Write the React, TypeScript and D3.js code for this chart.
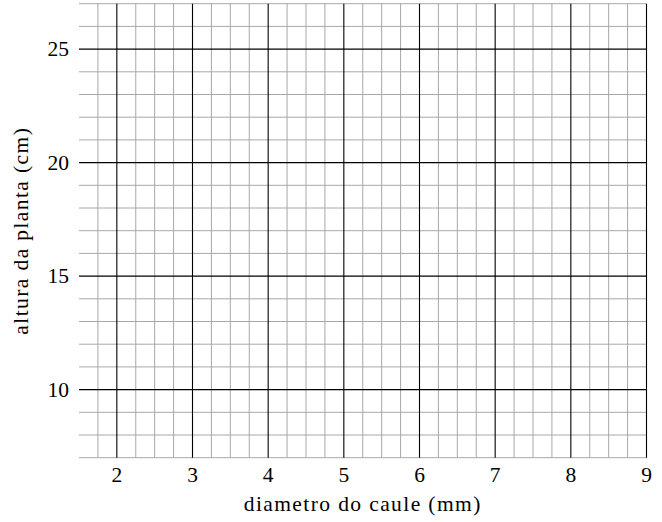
import { useRef, useEffect } from 'react'
import * as d3 from 'd3';

// axis ranges and ticks
const xDomain = [1.5, 9];
const yDomain = [7, 27];
const xMajorTicks = [2, 3, 4, 5, 6, 7, 8, 9];
const yMajorTicks = [10, 15, 20, 25];
const xMinorTicks = [1.75, 2, 2.25, 2.5, 2.75, 3, 3.25, 3.5, 3.75, 4, 4.25, 4.5, 4.75, 5, 5.25, 5.5, 5.75, 6, 6.25, 6.5, 6.75, 7, 7.25, 7.5, 7.75, 8, 8.25, 8.5, 8.75, 9];
const yMinorTicks = [7, 8, 9, 10, 11, 12, 13, 14, 15, 16, 17, 18, 19, 20, 21, 22, 23, 24, 25, 26, 27];
const xLabel = "diametro do caule (mm)";
const yLabel = "altura da planta (cm)";

function App() {
    const ref = useRef(null);

    const width = 662;
    const height = 522;

    useEffect(() => {
        const marginLeft = 79;
        const marginRight = 15.5;
        const marginTop = 3.7;
        const marginBottom = 64.3;
        const font = '"Liberation Serif", serif';
        const fontSize = 21.5;

        const svg = d3.select(ref.current);
        svg.selectAll("*").remove();

        const x = d3.scaleLinear()
                    .domain(xDomain)
                    .range([marginLeft, width - marginRight]);

        const y = d3.scaleLinear()
                    .domain(yDomain)
                    .range([height - marginBottom, marginTop]);

        // minor grid
        const minor = svg.append("g")
                         .attr("stroke", "#a8a8a8")
                         .attr("stroke-width", 1);
        minor.selectAll()
             .data(xMinorTicks.filter(d => !xMajorTicks.includes(d)))
             .join("line")
             .attr("x1", d => x(d)).attr("x2", d => x(d))
             .attr("y1", y(yDomain[0])).attr("y2", y(yDomain[1]));
        minor.selectAll()
             .data(yMinorTicks.filter(d => !yMajorTicks.includes(d)))
             .join("line")
             .attr("x1", x(xDomain[0])).attr("x2", x(xDomain[1]))
             .attr("y1", d => y(d)).attr("y2", d => y(d));

        // major grid
        const major = svg.append("g")
                         .attr("stroke", "#000")
                         .attr("stroke-width", 1.1);
        major.selectAll()
             .data(xMajorTicks)
             .join("line")
             .attr("x1", d => x(d)).attr("x2", d => x(d))
             .attr("y1", y(yDomain[0])).attr("y2", y(yDomain[1]));
        major.selectAll()
             .data(yMajorTicks)
             .join("line")
             .attr("x1", x(xDomain[0])).attr("x2", x(xDomain[1]))
             .attr("y1", d => y(d)).attr("y2", d => y(d));

        // tick labels
        svg.append("g")
           .style("font-family", font)
           .attr("font-size", fontSize)
           .attr("text-anchor", "middle")
           .selectAll()
           .data(xMajorTicks)
           .join("text")
           .attr("x", d => x(d))
           .attr("y", height - marginBottom + 24.5)
           .text(d => d);

        svg.append("g")
           .style("font-family", font)
           .attr("font-size", fontSize)
           .attr("text-anchor", "end")
           .selectAll()
           .data(yMajorTicks)
           .join("text")
           .attr("x", marginLeft - 10)
           .attr("y", d => y(d))
           .attr("dy", "0.33em")
           .text(d => d);

        // axis titles
        svg.append("text")
           .style("font-family", font)
           .style("letter-spacing", "1.4px")
           .attr("font-size", fontSize)
           .attr("text-anchor", "middle")
           .attr("x", (marginLeft + width - marginRight) / 2)
           .attr("y", 511)
           .text(xLabel);

        svg.append("text")
           .style("font-family", font)
           .style("letter-spacing", "1.4px")
           .attr("font-size", fontSize)
           .attr("text-anchor", "middle")
           .attr("transform", `translate(28,${(marginTop + height - marginBottom) / 2}) rotate(-90)`)
           .text(yLabel);
    }, []);

    return (
        <svg width={width}
             height={height}
             ref={ref}
             style={{ position: "absolute", left: 0, top: 0, background: "#fff" }} />
    )
}

export default App;
